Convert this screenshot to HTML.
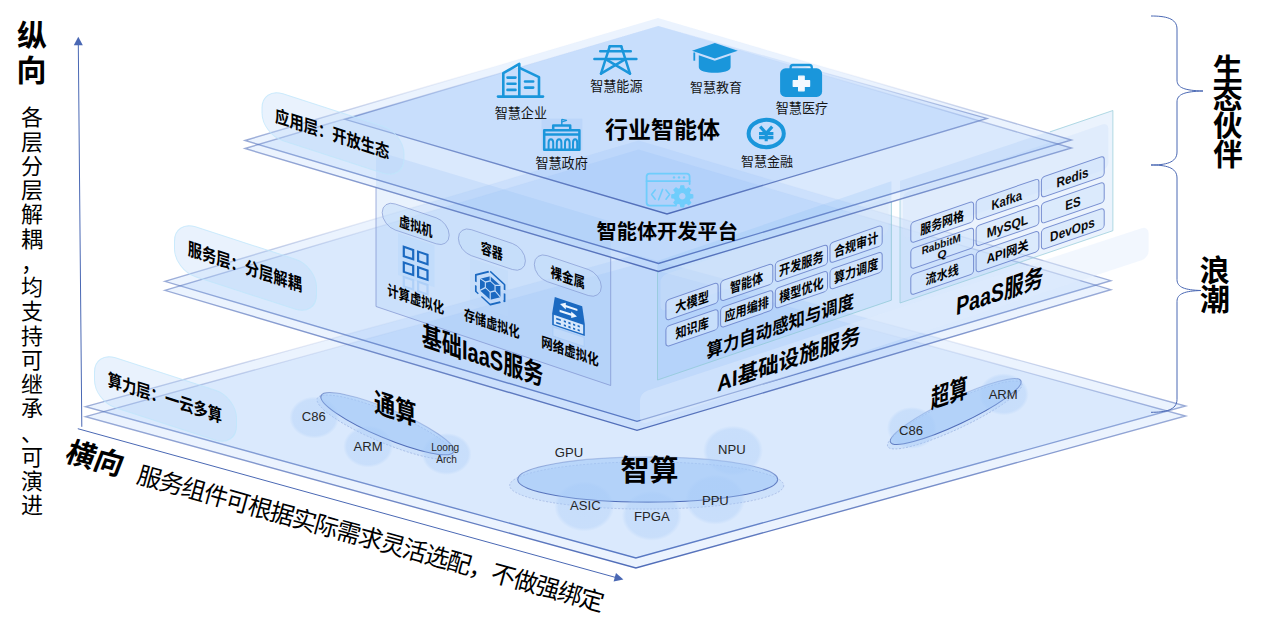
<!DOCTYPE html>
<html lang="zh"><head><meta charset="utf-8"><title>architecture</title>
<style>html,body{margin:0;padding:0;background:#fff}body{width:1267px;height:626px;overflow:hidden;font-family:"Liberation Sans","Noto Sans CJK SC",sans-serif}svg{display:block}text{font-family:"Liberation Sans","Noto Sans CJK SC",sans-serif}</style>
</head><body>
<svg width="1267" height="626" viewBox="0 0 1267 626">
<defs><linearGradient id="lg1" gradientUnits="userSpaceOnUse" x1="0" y1="254.7" x2="0" y2="558"><stop offset="0" stop-color="#4f6cb8" stop-opacity="0"/><stop offset="0.2" stop-color="#4f6cb8" stop-opacity="0.02"/><stop offset="0.3" stop-color="#4f6cb8" stop-opacity="0.14"/><stop offset="0.5" stop-color="#4f6cb8" stop-opacity="0.55"/><stop offset="1" stop-color="#4f6cb8" stop-opacity="1"/></linearGradient><linearGradient id="lg2" gradientUnits="userSpaceOnUse" x1="0" y1="264.7" x2="0" y2="568"><stop offset="0" stop-color="#4f6cb8" stop-opacity="0"/><stop offset="0.2" stop-color="#4f6cb8" stop-opacity="0.02"/><stop offset="0.3" stop-color="#4f6cb8" stop-opacity="0.14"/><stop offset="0.5" stop-color="#4f6cb8" stop-opacity="0.55"/><stop offset="1" stop-color="#4f6cb8" stop-opacity="1"/></linearGradient><linearGradient id="lg3" gradientUnits="userSpaceOnUse" x1="0" y1="140.5" x2="0" y2="421.3"><stop offset="0" stop-color="#4f6cb8" stop-opacity="0"/><stop offset="0.2" stop-color="#4f6cb8" stop-opacity="0.02"/><stop offset="0.3" stop-color="#4f6cb8" stop-opacity="0.14"/><stop offset="0.5" stop-color="#4f6cb8" stop-opacity="0.55"/><stop offset="1" stop-color="#4f6cb8" stop-opacity="1"/></linearGradient><linearGradient id="lg4" gradientUnits="userSpaceOnUse" x1="0" y1="149.5" x2="0" y2="430.3"><stop offset="0" stop-color="#4f6cb8" stop-opacity="0"/><stop offset="0.2" stop-color="#4f6cb8" stop-opacity="0.02"/><stop offset="0.3" stop-color="#4f6cb8" stop-opacity="0.14"/><stop offset="0.5" stop-color="#4f6cb8" stop-opacity="0.55"/><stop offset="1" stop-color="#4f6cb8" stop-opacity="1"/></linearGradient><radialGradient id="rgc"><stop offset="0" stop-color="#a5c9f7" stop-opacity="0.36"/><stop offset="0.86" stop-color="#a5c9f7" stop-opacity="0.33"/><stop offset="1" stop-color="#a5c9f7" stop-opacity="0.0"/></radialGradient><linearGradient id="lg5" gradientUnits="userSpaceOnUse" x1="0" y1="409.2" x2="0" y2="438.2"><stop offset="0" stop-color="#4f6cb8" stop-opacity="0.25"/><stop offset="0.55" stop-color="#4f6cb8" stop-opacity="0.8"/><stop offset="1" stop-color="#4f6cb8" stop-opacity="1"/></linearGradient><linearGradient id="lg6" gradientUnits="userSpaceOnUse" x1="0" y1="456.9" x2="0" y2="502.1"><stop offset="0" stop-color="#4f6cb8" stop-opacity="0.25"/><stop offset="0.55" stop-color="#4f6cb8" stop-opacity="0.8"/><stop offset="1" stop-color="#4f6cb8" stop-opacity="1"/></linearGradient><linearGradient id="lg7" gradientUnits="userSpaceOnUse" x1="0" y1="398.5" x2="0" y2="424.5"><stop offset="0" stop-color="#4f6cb8" stop-opacity="0.25"/><stop offset="0.55" stop-color="#4f6cb8" stop-opacity="0.8"/><stop offset="1" stop-color="#4f6cb8" stop-opacity="1"/></linearGradient><linearGradient id="lg8" gradientUnits="userSpaceOnUse" x1="0" y1="18" x2="0" y2="263.4"><stop offset="0" stop-color="#4f6cb8" stop-opacity="0"/><stop offset="0.2" stop-color="#4f6cb8" stop-opacity="0.02"/><stop offset="0.3" stop-color="#4f6cb8" stop-opacity="0.14"/><stop offset="0.5" stop-color="#4f6cb8" stop-opacity="0.55"/><stop offset="1" stop-color="#4f6cb8" stop-opacity="1"/></linearGradient><linearGradient id="lg9" gradientUnits="userSpaceOnUse" x1="0" y1="26" x2="0" y2="271.4"><stop offset="0" stop-color="#4f6cb8" stop-opacity="0"/><stop offset="0.2" stop-color="#4f6cb8" stop-opacity="0.02"/><stop offset="0.3" stop-color="#4f6cb8" stop-opacity="0.14"/><stop offset="0.5" stop-color="#4f6cb8" stop-opacity="0.55"/><stop offset="1" stop-color="#4f6cb8" stop-opacity="1"/></linearGradient><linearGradient id="lg10" gradientUnits="userSpaceOnUse" x1="0" y1="26" x2="0" y2="214"><stop offset="0" stop-color="#4f6cb8" stop-opacity="0"/><stop offset="0.2" stop-color="#4f6cb8" stop-opacity="0.02"/><stop offset="0.3" stop-color="#4f6cb8" stop-opacity="0.14"/><stop offset="0.5" stop-color="#4f6cb8" stop-opacity="0.55"/><stop offset="1" stop-color="#4f6cb8" stop-opacity="1"/></linearGradient></defs>
<rect width="1267" height="626" fill="#fff"/>
<polygon points="85.6,406.7 635.3,254.7 1185.6,406 635.9,558" fill="#80b6f8" fill-opacity="0.16" stroke="url(#lg1)" stroke-width="1.4" stroke-linejoin="miter"/>
<polygon points="85.6,416.7 635.3,264.7 1185.6,416 635.9,568" fill="#80b6f8" fill-opacity="0.16" stroke="url(#lg2)" stroke-width="1.4" stroke-linejoin="miter"/>
<polygon points="164.8,281.3 638.6,140.5 1110.8,280.7 637,421.3" fill="#80b6f8" fill-opacity="0.16" stroke="url(#lg3)" stroke-width="1.4" stroke-linejoin="miter"/>
<polygon points="164.8,290.3 638.6,149.5 1110.8,289.7 637,430.3" fill="#80b6f8" fill-opacity="0.16" stroke="url(#lg4)" stroke-width="1.4" stroke-linejoin="miter"/>
<ellipse cx="385.4" cy="427.2" rx="74" ry="15.5" transform="rotate(22.9 385.4 427.2)" fill="#a9cbf7" fill-opacity="0.25" stroke="#8fa6da" stroke-width="0.7" stroke-dasharray="2 1.6" stroke-opacity="0.8"/>
<ellipse cx="387.4" cy="423.7" rx="72" ry="14.5" transform="rotate(22.9 387.4 423.7)" fill="#9fc6f7" fill-opacity="0.55" stroke="url(#lg5)" stroke-width="1.1"/>
<ellipse cx="314.3" cy="417.5" rx="25" ry="21" fill="url(#rgc)"/>
<ellipse cx="368.2" cy="446.5" rx="25" ry="21" fill="url(#rgc)"/>
<ellipse cx="446.6" cy="454" rx="25" ry="21" fill="url(#rgc)"/>
<text transform="matrix(0.02120 0.00721 0.00000 0.02743 374.07 411.15)" font-size="1000" font-weight="bold" fill="#000">通算</text>
<text x="301.77" y="421.4" font-size="13.1" fill="#262626">C86</text>
<text x="353.54" y="450.8" font-size="13.1" fill="#262626">ARM</text>
<text x="431.15" y="450.9" font-size="10.1" fill="#262626">Loong</text>
<text x="436.16" y="462.7" font-size="10.1" fill="#262626">Arch</text>
<ellipse cx="646.7" cy="485.5" rx="137" ry="23.6" transform="rotate(0 646.7 485.5)" fill="#a9cbf7" fill-opacity="0.25" stroke="#8fa6da" stroke-width="0.7" stroke-dasharray="2 1.6" stroke-opacity="0.8"/>
<ellipse cx="647.7" cy="479.5" rx="130" ry="22.6" transform="rotate(0 647.7 479.5)" fill="#9fc6f7" fill-opacity="0.55" stroke="url(#lg6)" stroke-width="1.1"/>
<ellipse cx="733" cy="450.7" rx="30" ry="25" fill="url(#rgc)"/>
<ellipse cx="584.3" cy="506.4" rx="30" ry="25" fill="url(#rgc)"/>
<ellipse cx="651.8" cy="515.8" rx="30" ry="25" fill="url(#rgc)"/>
<ellipse cx="715.1" cy="499.7" rx="30" ry="25" fill="url(#rgc)"/>
<text x="620.43" y="481.44" font-size="29" font-weight="bold" fill="#000">智算</text>
<text x="554.79" y="457.2" font-size="13.1" fill="#262626">GPU</text>
<text x="718.05" y="454.2" font-size="13.1" fill="#262626">NPU</text>
<text x="570.05" y="510.4" font-size="13.1" fill="#262626">ASIC</text>
<text x="701.91" y="504.5" font-size="13.1" fill="#262626">PPU</text>
<text x="634.11" y="520.6" font-size="13.1" fill="#262626">FPGA</text>
<ellipse cx="954.7" cy="415" rx="74" ry="14" transform="rotate(-25.2 954.7 415)" fill="#a9cbf7" fill-opacity="0.25" stroke="#8fa6da" stroke-width="0.7" stroke-dasharray="2 1.6" stroke-opacity="0.8"/>
<ellipse cx="955.7" cy="411.5" rx="72" ry="13" transform="rotate(-25.2 955.7 411.5)" fill="#9fc6f7" fill-opacity="0.55" stroke="url(#lg7)" stroke-width="1.1"/>
<ellipse cx="911.9" cy="427.9" rx="25" ry="21" fill="url(#rgc)"/>
<ellipse cx="1003.8" cy="394.3" rx="25" ry="21" fill="url(#rgc)"/>
<text transform="matrix(0.01837 -0.00625 -0.00052 0.02605 930.85 408.85)" font-size="1000" font-weight="bold" fill="#000">超算</text>
<text x="899.12" y="435" font-size="13.1" fill="#262626">C86</text>
<text x="988.64" y="399.1" font-size="13.1" fill="#262626">ARM</text>
<g transform="matrix(1 0.324 0 1 94.5 351)"><rect width="142" height="50" rx="21" fill="#b7d5fa" fill-opacity="0.31" stroke="#bfe6fb" stroke-opacity="0.8" stroke-width="1"/></g>
<text transform="matrix(0.01431 0.00463 0.00000 0.01783 107.71 385.78)" font-size="1000" font-weight="bold" fill="#000">算力层：一云多算</text>
<rect transform="matrix(1 -0.3285 0 1 640 393)" width="508.6" height="32" rx="7" fill="#e1ecfc" fill-opacity="0.42"/>
<g transform="matrix(1 0.324 0 1 174.5 220)"><rect width="142" height="50" rx="21" fill="#b7d5fa" fill-opacity="0.31" stroke="#bfe6fb" stroke-opacity="0.8" stroke-width="1"/></g>
<text transform="matrix(0.01429 0.00463 0.00000 0.01796 187.66 254.75)" font-size="1000" font-weight="bold" fill="#000">服务层：分层解耦</text>
<polygon points="376,151.1 610.7,221.5 610.7,385.5 376,306.5" fill="#8fbef7" fill-opacity="0.2"/>
<polyline points="376,187.5 376,306.5 610.7,385.5 610.7,258" fill="none" stroke="#7f93cf" stroke-width="0.9" stroke-opacity="0.8"/>
<rect transform="matrix(1 0.3375 0 1 382.2 199.59)" width="67" height="26" rx="13" fill="#c3dcfa" fill-opacity="0.55" stroke="#7f93cf" stroke-width="0.8" stroke-opacity="0.75"/>
<text transform="matrix(0.01123 0.00379 0.00000 0.01491 398.94 225.95)" font-size="1000" font-weight="bold" fill="#000">虚拟机</text>
<rect transform="matrix(1 0.3375 0 1 458.4 225.29)" width="67" height="26" rx="13" fill="#c3dcfa" fill-opacity="0.55" stroke="#7f93cf" stroke-width="0.8" stroke-opacity="0.75"/>
<text transform="matrix(0.01108 0.00374 0.00000 0.01472 480.79 252.77)" font-size="1000" font-weight="bold" fill="#000">容器</text>
<rect transform="matrix(1 0.3375 0 1 534.3 251.29)" width="67" height="26" rx="13" fill="#c3dcfa" fill-opacity="0.55" stroke="#7f93cf" stroke-width="0.8" stroke-opacity="0.75"/>
<text transform="matrix(0.01148 0.00387 0.00000 0.01472 550.62 277.08)" font-size="1000" font-weight="bold" fill="#000">裸金属</text>
<text transform="matrix(0.01139 0.00384 0.00000 0.01477 387.17 294.92)" font-size="1000" font-weight="bold" fill="#000">计算虚拟化</text>
<text transform="matrix(0.01112 0.00375 0.00000 0.01481 464 319.6)" font-size="1000" font-weight="bold" fill="#000">存储虚拟化</text>
<text transform="matrix(0.01148 0.00387 0.00000 0.01471 541.32 346.79)" font-size="1000" font-weight="bold" fill="#000">网络虚拟化</text>
<text transform="matrix(0.02010 0.00678 0.00000 0.02718 421.74 344.77)" font-size="1000" font-weight="bold" fill="#000">基础IaaS服务</text>
<polygon points="657.5,261 891.4,181.2 891.4,300.2 657.5,380" fill="#8fbef7" fill-opacity="0.22"/>
<polyline points="657.5,272 657.5,380 891.4,300.2 891.4,202" fill="none" stroke="#8fc9d6" stroke-width="0.9" stroke-opacity="0.85"/>
<rect transform="matrix(1 -0.345 0 1 660.5 276)" width="228" height="36" rx="6" fill="#d7e6fa" fill-opacity="0.3"/>
<rect transform="matrix(1 -0.345 0 1 665.9 300.4)" width="52.2" height="20.2" rx="3.5" fill="#d3e5fc" fill-opacity="0.65" stroke="#6c84cc" stroke-width="1" stroke-opacity="0.9"/>
<text transform="matrix(0.01122 -0.00387 0.00000 0.01383 675.23 312.63)" font-size="1000" font-weight="bold" fill="#000">大模型</text>
<rect transform="matrix(1 -0.345 0 1 720.6 281.3)" width="52.2" height="20.2" rx="3.5" fill="#d3e5fc" fill-opacity="0.65" stroke="#6c84cc" stroke-width="1" stroke-opacity="0.9"/>
<text transform="matrix(0.01105 -0.00381 0.00000 0.01376 730.02 293.53)" font-size="1000" font-weight="bold" fill="#000">智能体</text>
<rect transform="matrix(1 -0.345 0 1 775.3 262.2)" width="52.2" height="20.2" rx="3.5" fill="#d3e5fc" fill-opacity="0.65" stroke="#6c84cc" stroke-width="1" stroke-opacity="0.9"/>
<text transform="matrix(0.01115 -0.00385 0.00000 0.01367 779.02 276.34)" font-size="1000" font-weight="bold" fill="#000">开发服务</text>
<rect transform="matrix(1 -0.345 0 1 830 243.11)" width="52.2" height="20.2" rx="3.5" fill="#d3e5fc" fill-opacity="0.65" stroke="#6c84cc" stroke-width="1" stroke-opacity="0.9"/>
<text transform="matrix(0.01112 -0.00384 0.00000 0.01366 833.89 257.24)" font-size="1000" font-weight="bold" fill="#000">合规审计</text>
<rect transform="matrix(1 -0.345 0 1 665.9 326.8)" width="52.2" height="20.2" rx="3.5" fill="#d3e5fc" fill-opacity="0.65" stroke="#6c84cc" stroke-width="1" stroke-opacity="0.9"/>
<text transform="matrix(0.01111 -0.00383 0.00000 0.01373 675.45 338.93)" font-size="1000" font-weight="bold" fill="#000">知识库</text>
<rect transform="matrix(1 -0.345 0 1 720.6 307.7)" width="52.2" height="20.2" rx="3.5" fill="#d3e5fc" fill-opacity="0.65" stroke="#6c84cc" stroke-width="1" stroke-opacity="0.9"/>
<text transform="matrix(0.01111 -0.00383 0.00000 0.01354 724.5 321.72)" font-size="1000" font-weight="bold" fill="#000">应用编排</text>
<rect transform="matrix(1 -0.345 0 1 775.3 288.6)" width="52.2" height="20.2" rx="3.5" fill="#d3e5fc" fill-opacity="0.65" stroke="#6c84cc" stroke-width="1" stroke-opacity="0.9"/>
<text transform="matrix(0.01108 -0.00382 0.00000 0.01376 779.3 302.67)" font-size="1000" font-weight="bold" fill="#000">模型优化</text>
<rect transform="matrix(1 -0.345 0 1 830 269.51)" width="52.2" height="20.2" rx="3.5" fill="#d3e5fc" fill-opacity="0.65" stroke="#6c84cc" stroke-width="1" stroke-opacity="0.9"/>
<text transform="matrix(0.01108 -0.00382 0.00000 0.01364 833.98 283.54)" font-size="1000" font-weight="bold" fill="#000">算力调度</text>
<text transform="matrix(0.01642 -0.00567 0.00000 0.01847 706.57 358.16)" font-size="1000" font-weight="bold" fill="#000">算力自动感知与调度</text>
<text transform="matrix(0.02053 -0.00708 -0.00045 0.02227 716.92 391.95)" font-size="1000" font-weight="bold" fill="#000">AI基础设施服务</text>
<polygon points="900,181 1112.9,110.5 1112.9,230.7 900,303" fill="#9cc4f7" fill-opacity="0.2"/>
<polyline points="900,200 900,303 1112.9,230.7 1112.9,110.5 1050,131.9" fill="none" stroke="#8fc9d6" stroke-width="0.9" stroke-opacity="0.75"/>
<rect transform="matrix(1 -0.345 0 1 903 193.2)" width="205.3" height="46" rx="6" fill="#d2e3fa" fill-opacity="0.42"/>
<rect transform="matrix(1 -0.345 0 1 910.8 222.8)" width="62.8" height="20.4" rx="3.5" fill="#d3e5fc" fill-opacity="0.65" stroke="#6c84cc" stroke-width="1" stroke-opacity="0.9"/>
<text transform="matrix(0.01101 -0.00380 0.00000 0.01316 920.14 234.88)" font-size="1000" font-weight="bold" fill="#000">服务网格</text>
<rect transform="matrix(1 -0.345 0 1 976.1 200.09)" width="62.8" height="20.4" rx="3.5" fill="#d3e5fc" fill-opacity="0.65" stroke="#6c84cc" stroke-width="1" stroke-opacity="0.9"/>
<text transform="matrix(0.01126 -0.00388 0.00000 0.01363 991.38 210.27)" font-size="1000" font-weight="bold" fill="#0c0c0c">Kafka</text>
<rect transform="matrix(1 -0.345 0 1 1041.4 177.38)" width="62.8" height="20.4" rx="3.5" fill="#d3e5fc" fill-opacity="0.65" stroke="#6c84cc" stroke-width="1" stroke-opacity="0.9"/>
<text transform="matrix(0.01185 -0.00409 0.00000 0.01363 1056.42 187.65)" font-size="1000" font-weight="bold" fill="#0c0c0c">Redis</text>
<rect transform="matrix(1 -0.345 0 1 910.8 248.85)" width="62.8" height="20.4" rx="3.5" fill="#d3e5fc" fill-opacity="0.65" stroke="#6c84cc" stroke-width="1" stroke-opacity="0.9"/>
<text transform="matrix(0.00990 -0.00342 0.00000 0.01093 921.7 254.74)" font-size="1000" font-weight="bold" fill="#0c0c0c">RabbitM</text>
<text transform="matrix(0.01180 -0.00407 0.00000 0.01093 937.46 259.5)" font-size="1000" font-weight="bold" fill="#0c0c0c">Q</text>
<rect transform="matrix(1 -0.345 0 1 976.1 226.14)" width="62.8" height="20.4" rx="3.5" fill="#d3e5fc" fill-opacity="0.65" stroke="#6c84cc" stroke-width="1" stroke-opacity="0.9"/>
<text transform="matrix(0.01205 -0.00416 0.00000 0.01363 986.7 237.93)" font-size="1000" font-weight="bold" fill="#0c0c0c">MySQL</text>
<rect transform="matrix(1 -0.345 0 1 1041.4 203.43)" width="62.8" height="20.4" rx="3.5" fill="#d3e5fc" fill-opacity="0.65" stroke="#6c84cc" stroke-width="1" stroke-opacity="0.9"/>
<text transform="matrix(0.01155 -0.00399 0.00000 0.01363 1065.35 210.62)" font-size="1000" font-weight="bold" fill="#0c0c0c">ES</text>
<rect transform="matrix(1 -0.345 0 1 910.8 274.9)" width="62.8" height="20.4" rx="3.5" fill="#d3e5fc" fill-opacity="0.65" stroke="#6c84cc" stroke-width="1" stroke-opacity="0.9"/>
<text transform="matrix(0.01104 -0.00381 0.00000 0.01314 925.61 285.1)" font-size="1000" font-weight="bold" fill="#000">流水线</text>
<rect transform="matrix(1 -0.345 0 1 976.1 252.19)" width="62.8" height="20.4" rx="3.5" fill="#d3e5fc" fill-opacity="0.65" stroke="#6c84cc" stroke-width="1" stroke-opacity="0.9"/>
<text transform="matrix(0.01143 -0.00394 0.00000 0.01322 986.86 263.8)" font-size="1000" font-weight="bold" fill="#000">API网关</text>
<rect transform="matrix(1 -0.345 0 1 1041.4 229.48)" width="62.8" height="20.4" rx="3.5" fill="#d3e5fc" fill-opacity="0.65" stroke="#6c84cc" stroke-width="1" stroke-opacity="0.9"/>
<text transform="matrix(0.01182 -0.00408 0.00000 0.01363 1050.12 241.92)" font-size="1000" font-weight="bold" fill="#0c0c0c">DevOps</text>
<text transform="matrix(0.01966 -0.00678 -0.00127 0.02548 955.63 315.5)" font-size="1000" font-weight="bold" fill="#000">PaaS服务</text>
<rect transform="matrix(1 0.3375 0 1 398 233)" width="36.5" height="42" fill="#b9d6fa" fill-opacity="0.45"/>
<g transform="matrix(1 0.3375 0 1 402.7 245.3)" fill="none" stroke="#1b69c1" stroke-width="2.2"><rect x="1.1" y="1.1" width="9.4" height="9.4"/><rect x="15.4" y="1.1" width="9.4" height="9.4"/><rect x="1.1" y="16.8" width="9.4" height="9.4"/><rect x="15.4" y="16.8" width="9.4" height="9.4"/></g>
<g transform="matrix(1 0.3375 0 1 402.7 275.5)" fill="none" stroke="#8fbcf3" stroke-opacity="0.45" stroke-width="2.2"><rect x="1.1" y="1.1" width="9.4" height="9.4"/><rect x="15.4" y="1.1" width="9.4" height="9.4"/></g>
<rect transform="matrix(1 0.3375 0 1 470 258)" width="38" height="46" fill="#b9d6fa" fill-opacity="0.35"/>
<g transform="matrix(1 0.3375 0 1 490.2 288)"><polygon points="0,-16.6 14.38,-8.3 14.38,8.3 0,16.6 -14.38,8.3 -14.38,-8.3" fill="none" stroke="#1b69c1" stroke-width="1.7" stroke-dasharray="22 3.5 9 3.5" stroke-linejoin="round"/><polygon points="0,-11.8 10.22,-5.9 10.22,5.9 0,11.8 -10.22,5.9 -10.22,-5.9" fill="#1b69c1"/><g stroke="#c3dbf9" stroke-width="1.15" fill="none"><polygon points="0,-7.1 4.85,-4.3 4.85,1.3 0,4.1 -4.85,1.3 -4.85,-4.3"/><path d="M0 -7.1L0 -12.2"/><path d="M4.85 -4.3L10.57 -6.1"/><path d="M4.85 1.3L10.57 6.1"/><path d="M0 4.1L0 12.2"/><path d="M-4.85 1.3L-10.57 6.1"/><path d="M-4.85 -4.3L-10.57 -6.1"/></g></g>
<g transform="matrix(1 0.3375 0 1 552.2 296)"><path d="M2.6 0.2L30 0.2L32.6 17.2V29L0 29V17.2Z" fill="#1b69c1"/><rect x="1.6" y="18.2" width="29.4" height="9.4" fill="#d6e7fc"/><path d="M7.8 5.4L13.6 2.2V4.4H25.2V6.6H13.6V8.8Z M24.8 12.2L19 9V11.2H7.4V13.4H19V15.6Z" fill="#eef5ff"/><rect x="4" y="20.4" width="4.6" height="1.8" fill="#1b69c1"/><rect x="11.6" y="20.4" width="2.2" height="1.8" fill="#1b69c1"/><rect x="16.2" y="20.4" width="2.2" height="1.8" fill="#1b69c1"/><rect x="20.799999999999997" y="20.4" width="2.2" height="1.8" fill="#1b69c1"/><rect x="25.4" y="20.4" width="2.2" height="1.8" fill="#1b69c1"/><rect x="4" y="24.4" width="4.6" height="1.8" fill="#1b69c1"/><rect x="11.6" y="24.4" width="2.2" height="1.8" fill="#1b69c1"/><rect x="16.2" y="24.4" width="2.2" height="1.8" fill="#1b69c1"/><rect x="20.799999999999997" y="24.4" width="2.2" height="1.8" fill="#1b69c1"/><rect x="25.4" y="24.4" width="2.2" height="1.8" fill="#1b69c1"/></g>
<rect transform="matrix(1 0.3375 0 1 553 327)" width="31" height="9" fill="#d6e7fc" fill-opacity="0.35" stroke="#8fbcf3" stroke-opacity="0.35"/>
<polygon points="245,140.5 658,18 1071.5,140 658.5,263.4" fill="#80b6f8" fill-opacity="0.16" stroke="url(#lg8)" stroke-width="1.4" stroke-linejoin="miter"/>
<polygon points="245,148.5 658,26 1071.5,148 658.5,271.4" fill="#80b6f8" fill-opacity="0.16" stroke="url(#lg9)" stroke-width="1.4" stroke-linejoin="miter"/>
<polygon points="345,119.3 658.5,26 987,118.4 667,214" fill="#80b6f8" fill-opacity="0.2" stroke="url(#lg10)" stroke-width="1.4" stroke-linejoin="miter"/>
<g transform="matrix(1 0.324 0 1 262 87)"><rect width="142" height="47" rx="21" fill="#b7d5fa" fill-opacity="0.31" stroke="#bfe6fb" stroke-opacity="0.8" stroke-width="1"/></g>
<text transform="matrix(0.01428 0.00463 0.00000 0.01778 275.11 121.75)" font-size="1000" font-weight="bold" fill="#000">应用层：开放生态</text>
<text x="605.05" y="138.09" font-size="23" font-weight="bold" fill="#000">行业智能体</text>
<text x="596.5" y="239.07" font-size="20.2" font-weight="bold" fill="#000">智能体开发平台</text>
<text x="494.68" y="117.64" font-size="13.1" fill="#141414">智慧企业</text>
<text x="590.18" y="91.26" font-size="13.1" fill="#141414">智慧能源</text>
<text x="689.88" y="92.03" font-size="13" fill="#141414">智慧教育</text>
<text x="775.78" y="112.84" font-size="13.1" fill="#141414">智慧医疗</text>
<text x="535.38" y="167.66" font-size="13.1" fill="#141414">智慧政府</text>
<text x="740.88" y="166.07" font-size="13" fill="#141414">智慧金融</text>
<g fill="none" stroke="#1a96db" stroke-width="2.6" stroke-linecap="round" stroke-linejoin="round"><path d="M498 96.6H543"/><path d="M503.3 96V73.2L519.3 63.8V96"/><path d="M520.6 68.4L539 77.2V96"/><path d="M507.5 77.6H515.5M507.5 83.7H515.5M507.5 89.9H515.5M525 81.5H533.2M525 87.6H533.2"/></g>
<g fill="none" stroke="#1a96db" stroke-width="2.5" stroke-linecap="round" stroke-linejoin="round"><path d="M609.8 46.2H621.2"/><path d="M609.8 46.2L601 73.6M621.2 46.2L630 73.6"/><path d="M600.2 51.3H630.8M594.4 59.1H636.4"/><path d="M605.6 59.1L630 73.6M625.4 59.1L601 73.6"/></g>
<g fill="#1a96db" stroke="none"><path d="M692 50.8L714.8 43.1L737.8 50.8L714.8 58.6Z"/><path d="M698.8 55.2L714.8 60.8L730.6 55.2V67.2C730.6 74.6 698.8 74.6 698.8 67.2Z"/><rect x="693.4" y="52.5" width="1.8" height="8.2"/></g>
<g><rect x="780.1" y="68.3" width="42" height="28.6" rx="5.5" fill="#1a96db"/><path d="M790.6 69V67.4Q790.6 65 793 65H809.4Q811.8 65 811.8 67.4V69" fill="none" stroke="#1a96db" stroke-width="2.3"/><path d="M798.6 76.2H804.2V80.7H809.6V86.3H804.2V90.8H798.6V86.3H793.2V80.7H798.6Z" fill="#f4f9ff" stroke="#f4f9ff" stroke-width="1.2" stroke-linejoin="round"/></g>
<rect x="541.5" y="118.6" width="40.8" height="31.6" fill="#a5c9f7" fill-opacity="0.35"/>
<g fill="none" stroke="#1a96db" stroke-width="2.5" stroke-linejoin="round"><rect x="544.2" y="130.2" width="35.2" height="19.6"/><path d="M544.2 134.4H579.4"/><path d="M553.2 130V125.6H570.2V130"/><path d="M561.8 125.4V119.2" stroke-width="1.4"/><path d="M561.8 119.4L566.6 120.4L561.8 122" stroke-width="1.1"/><path d="M548.6 149.6V142.8Q548.6 139.2 550.9 139.2Q553.2 139.2 553.2 142.8V149.6M556.8 149.6V142.8Q556.8 139.2 559.1 139.2Q561.4 139.2 561.4 142.8V149.6M565 149.6V142.8Q565 139.2 567.3 139.2Q569.6 139.2 569.6 142.8V149.6M573 149.6V142.8Q573 139.2 575.1 139.2Q577.2 139.2 577.2 142.8V149.6" stroke-width="2"/></g>
<ellipse cx="766.2" cy="133.5" rx="17.6" ry="13.7" fill="none" stroke="#1a96db" stroke-width="4"/>
<g fill="none" stroke="#1a96db" stroke-width="3.1" stroke-linecap="butt"><path d="M760.2 126.6L766.2 133.4L772.2 126.6M766.2 133.4V141.2M759 133.6H773.4M759 137.6H773.4"/></g>
<g fill="none" stroke="#6fcdfc" stroke-width="1.8" stroke-linejoin="round" stroke-linecap="round"><path d="M676 205.6H649.6Q646.6 205.6 646.6 202.6V176.6Q646.6 173.6 649.6 173.6H686.6Q689.6 173.6 689.6 176.6V184"/><path d="M646.6 181.2H689.6"/><path d="M655.2 190L651.6 194.6L655.2 199.2M666 190L669.6 194.6L666 199.2M662.6 189.4L658.6 199.8" stroke-width="1.6"/></g>
<g fill="#6fcdfc"><circle cx="674" cy="177.4" r="1.2"/><circle cx="679" cy="177.4" r="1.2"/><circle cx="684" cy="177.4" r="1.2"/></g>
<path d="M690.08 194.43 L692.79 194.81 L692.79 197.79 L690.08 198.17 L689.12 200.48 L690.78 202.66 L688.66 204.78 L686.48 203.12 L684.17 204.08 L683.79 206.79 L680.81 206.79 L680.43 204.08 L678.12 203.12 L675.94 204.78 L673.82 202.66 L675.48 200.48 L674.52 198.17 L671.81 197.79 L671.81 194.81 L674.52 194.43 L675.48 192.12 L673.82 189.94 L675.94 187.82 L678.12 189.48 L680.43 188.52 L680.81 185.81 L683.79 185.81 L684.17 188.52 L686.48 189.48 L688.66 187.82 L690.78 189.94 L689.12 192.12Z M686.1 196.3 A3.8 3.8 0 1 0 678.5 196.3 A3.8 3.8 0 1 0 686.1 196.3Z" fill="#6fcdfc" fill-rule="evenodd" stroke="#6fcdfc" stroke-width="1.2" stroke-linejoin="round"/>
<line x1="78.3" y1="44" x2="81.8" y2="426.8" stroke="#4a68b4" stroke-width="1"/>
<polygon points="78.3,36.8 73.8,45.3 82.8,45.3" fill="#4a68b4"/>
<line x1="77.8" y1="428.7" x2="616.5" y2="577.7" stroke="#4a68b4" stroke-width="1"/>
<polygon points="623.4,579.6 613.6,581.6 616,572.9" fill="#4a68b4"/>
<text x="16.97" y="46.16" font-size="30" font-weight="bold" fill="#000">纵</text>
<text x="16.48" y="81.3" font-size="30" font-weight="bold" fill="#000">向</text>
<text x="21" y="125.3" font-size="22" fill="#000">各</text>
<text x="21" y="149.55" font-size="22" fill="#000">层</text>
<text x="21" y="173.8" font-size="22" fill="#000">分</text>
<text x="21" y="198.05" font-size="22" fill="#000">层</text>
<text x="21" y="222.3" font-size="22" fill="#000">解</text>
<text x="21" y="246.55" font-size="22" fill="#000">耦</text>
<text x="21" y="270.8" font-size="22" fill="#000">，</text>
<text x="21" y="295.05" font-size="22" fill="#000">均</text>
<text x="21" y="319.3" font-size="22" fill="#000">支</text>
<text x="21" y="343.55" font-size="22" fill="#000">持</text>
<text x="21" y="367.8" font-size="22" fill="#000">可</text>
<text x="21" y="392.05" font-size="22" fill="#000">继</text>
<text x="21" y="416.3" font-size="22" fill="#000">承</text>
<text x="21" y="440.55" font-size="22" fill="#000">、</text>
<text x="21" y="464.8" font-size="22" fill="#000">可</text>
<text x="21" y="489.05" font-size="22" fill="#000">演</text>
<text x="21" y="513.3" font-size="22" fill="#000">进</text>
<text transform="matrix(0.02795 0.00775 -0.01054 0.02717 63.5 460.5)" font-size="1000" font-weight="bold" fill="#000">横向</text>
<text transform="matrix(0.02342 0.00649 -0.00649 0.02342 135.5 482.5)" font-size="1000" letter-spacing="-55" fill="#000">服务组件可根据实际需求灵活选配，不做强绑定</text>
<path d="M1151 16 C1165 16 1177 18 1177 29 L1177 80 C1177 88 1185 90.5 1203 91 C1185 91.5 1177 94 1177 102 L1177 152 C1177 163 1165 165 1151 165" fill="none" stroke="#4a68b4" stroke-width="1"/>
<path d="M1151 165 C1165 165 1177 167 1177 178 L1177 279.5 C1177 287.5 1185 290.0 1201 290.5 C1185 291.0 1177 293.5 1177 301.5 L1177 399.3 C1177 410.3 1165 412.3 1151 412.3" fill="none" stroke="#4a68b4" stroke-width="1"/>
<text x="1212.67" y="80.02" font-size="30" font-weight="bold" fill="#000">生</text>
<text x="1212.5" y="108.32" font-size="30" font-weight="bold" fill="#000">态</text>
<text x="1213.09" y="136.23" font-size="29.5" font-weight="bold" fill="#000">伙</text>
<text x="1213.24" y="164.75" font-size="29.5" font-weight="bold" fill="#000">伴</text>
<text x="1199.77" y="281.04" font-size="30" font-weight="bold" fill="#000">浪</text>
<text x="1199.97" y="310.26" font-size="30" font-weight="bold" fill="#000">潮</text>
</svg>
</body></html>
